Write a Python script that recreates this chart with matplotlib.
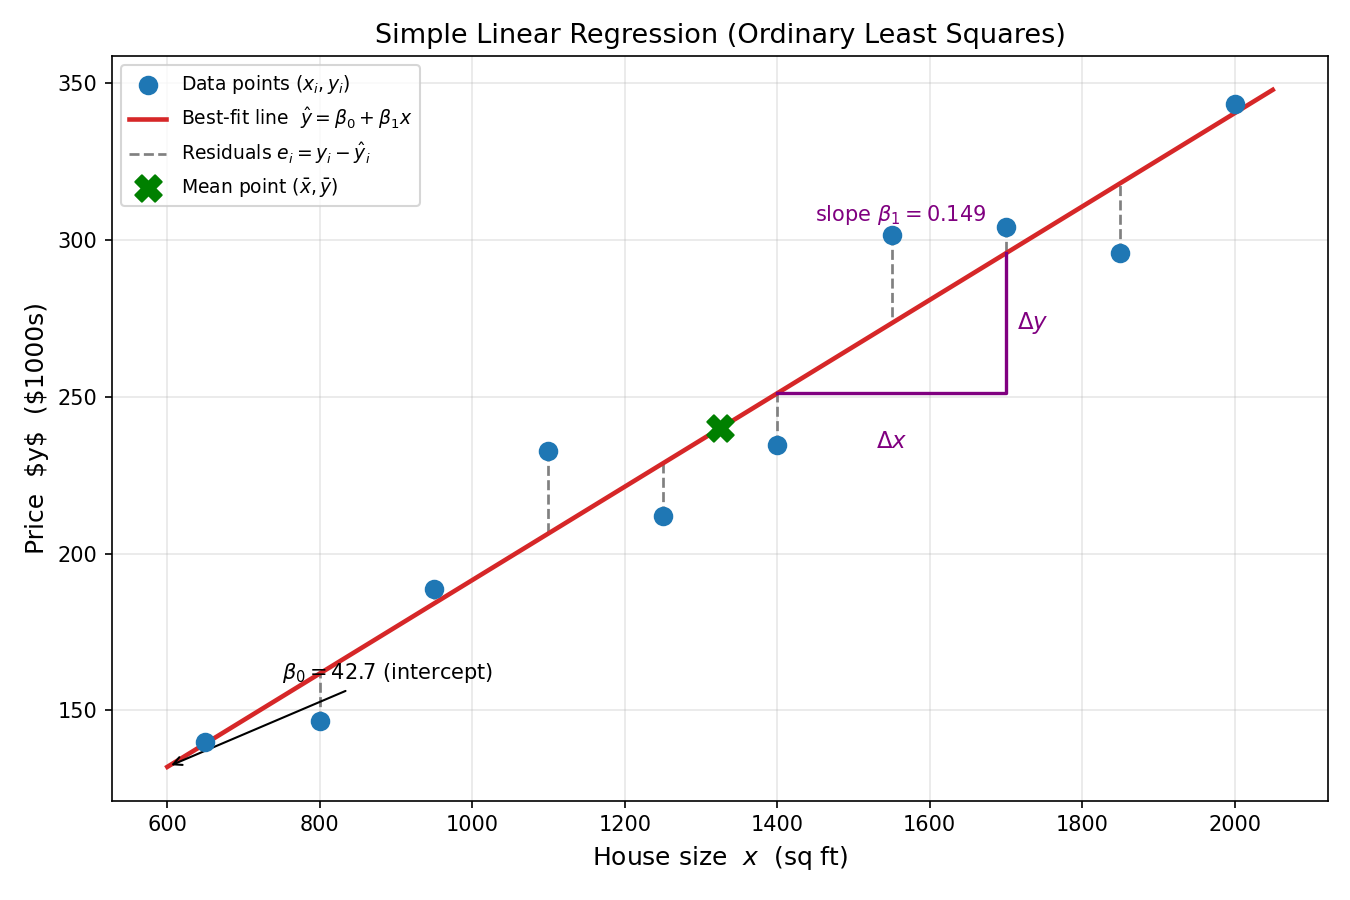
import numpy as np
import matplotlib.pyplot as plt

# house size (sq ft) and price ($1000s)
sizes = [650, 800, 950, 1100, 1250, 1400, 1550, 1700, 1850, 2000]
prices = [139.8, 146.5, 188.6, 232.9, 212.1, 234.7, 301.8, 304.1, 295.8, 343.6]

x = np.array(sizes, dtype=float)
y = np.array(prices)

b1, b0 = np.polyfit(x, y, 1)
y_hat = b0 + b1 * x
x_mean, y_mean = x.mean(), y.mean()

fig, ax = plt.subplots(figsize=(9, 6), dpi=150)

# residuals
for i in range(len(x)):
    ax.plot([x[i], x[i]], [y[i], y_hat[i]], color='gray', ls='--', lw=1.3, zorder=2,
            label=r'Residuals $e_i = y_i - \hat{y}_i$' if i == 0 else None)

ax.scatter(x, y, s=70, color='tab:blue', zorder=4, label=r'Data points $(x_i, y_i)$')

x_line = np.array([600, 2050])
ax.plot(x_line, b0 + b1 * x_line, color='#d62728', lw=2.2, zorder=3,
        label=r'Best-fit line  $\hat{y} = \beta_0 + \beta_1 x$')

ax.scatter([x_mean], [y_mean], marker='X', s=160, color='green', zorder=5,
           label=r'Mean point $(\bar{x}, \bar{y})$')

# slope triangle
xa, xb = 1400, 1700
ya, yb = b0 + b1 * xa, b0 + b1 * xb
ax.plot([xa, xb, xb], [ya, ya, yb], color='purple', lw=1.6, zorder=3)
ax.text((xa + xb) / 2, ya - 15.5, r'$\Delta x$', color='purple', fontsize=11, ha='center', va='center')
ax.text(xb + 15, (ya + yb) / 2, r'$\Delta y$', color='purple', fontsize=11, va='center')
ax.text(1450, 306, r'slope $\beta_1 = %.3f$' % b1, color='purple', fontsize=10)

ax.annotate(r'$\beta_0 = %.1f$ (intercept)' % b0, xy=(600, b0 + b1 * 600), xytext=(750, 160),
            fontsize=10, arrowprops=dict(arrowstyle='->', color='black', lw=1))

ax.set_title('Simple Linear Regression (Ordinary Least Squares)', fontsize=13)
ax.set_xlabel(r'House size  $x$  (sq ft)', fontsize=12)
ax.set_ylabel('Price  $y$  ($1000s)', fontsize=12)
ax.grid(True, alpha=0.3)

h, l = ax.get_legend_handles_labels()
order = [1, 2, 0, 3]
ax.legend([h[k] for k in order], [l[k] for k in order], loc='upper left', fontsize=9)

fig.subplots_adjust(left=0.083, right=0.9837, top=0.9378, bottom=0.1103)
fig.savefig('out.png')
